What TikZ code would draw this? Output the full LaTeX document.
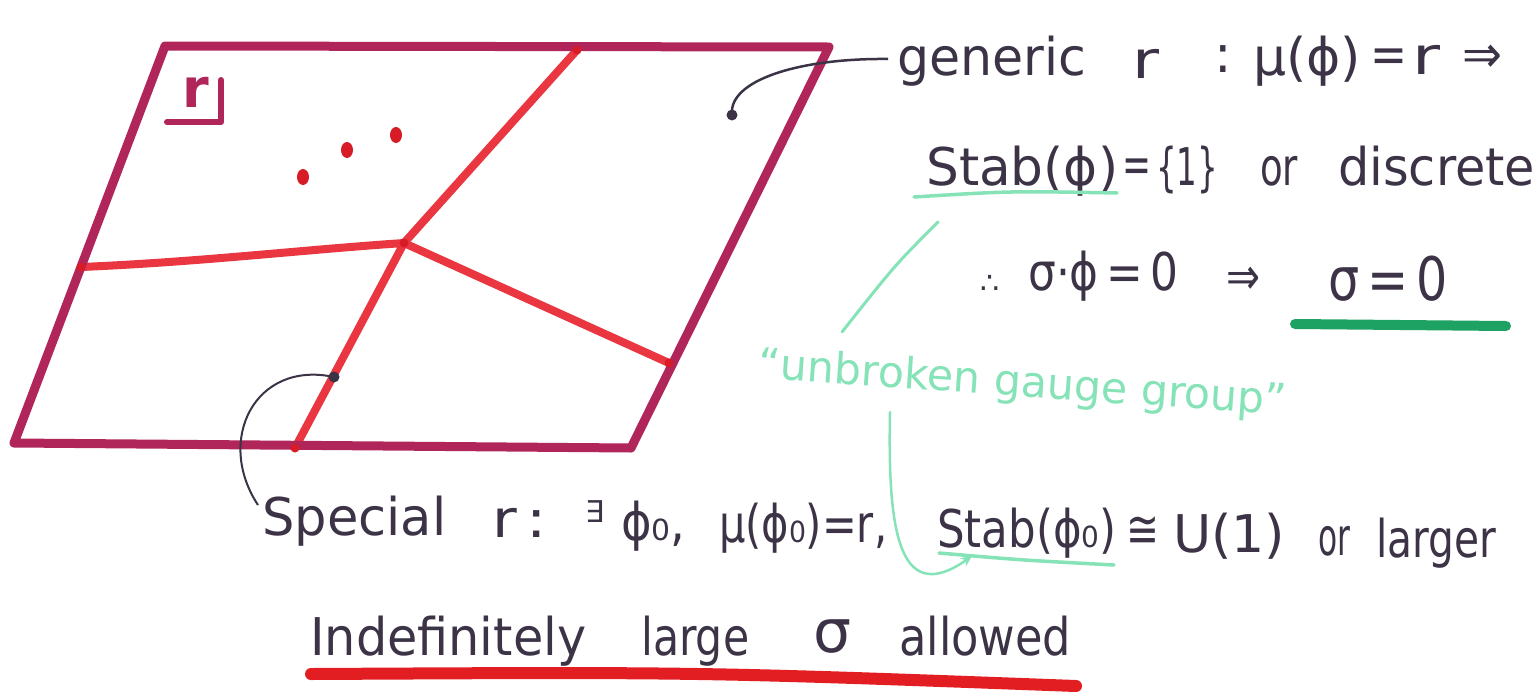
\documentclass[tikz,border=0pt]{standalone}
\usepackage{graphicx}
\usepackage{fontspec}
\setmainfont{DejaVu Sans}
\usetikzlibrary{arrows.meta}
\definecolor{frame}{RGB}{176,38,90}
\definecolor{redline}{RGB}{234,54,64}
\definecolor{reddot}{RGB}{215,28,40}
\definecolor{ink}{RGB}{60,52,70}
\definecolor{mint}{RGB}{134,227,184}
\definecolor{dgreen}{RGB}{30,162,99}
\definecolor{ured}{RGB}{227,30,34}
\newcommand\fw[2]{\resizebox{#1pt}{\height}{#2}}
\begin{document}
\begin{tikzpicture}[x=1pt,y=-1pt,
  txt/.style={anchor=base west, inner sep=0pt, text=ink, font=\fontsize{52}{56}\selectfont},
  big/.style={font=\fontsize{60}{64}\selectfont},
  small/.style={font=\fontsize{30}{32}\selectfont},
  gtxt/.style={anchor=base west, inner sep=0pt, text=mint, font=\fontsize{43}{46}\selectfont},
  framestroke/.style={draw=frame, line width=9, line join=round, line cap=round},
  redstroke/.style={draw=redline, line width=8, line cap=round},
  inkline/.style={draw=ink, line width=2.5},
  mintline/.style={draw=mint, line width=3.5, line cap=round}]
\useasboundingbox (0,0) rectangle (1539,691);
\fill[white] (0,0) rectangle (1539,691);
% parallelogram
\coordinate (tl) at (165,46);
\coordinate (tr) at (829,47);
\coordinate (br) at (631,448);
\coordinate (bl) at (14,443);
\coordinate (c) at (404,243);
\coordinate (etop) at (577,50);
\coordinate (eleft) at (81,267);
\coordinate (eright) at (669,363);
\coordinate (ebot) at (295,448);
\draw[redstroke] (etop) -- (c);
\draw[redstroke] (eleft) .. controls (200,262) and (300,250) .. (c);
\draw[redstroke] (c) -- (eright);
\draw[redstroke] (c) -- (ebot);
\draw[framestroke] (tl) -- (tr) -- (br) -- (bl) -- cycle;
\foreach \p in {c,etop,eleft,eright,ebot} \fill[reddot] (\p) circle (4.5);
% dots
\fill[reddot] (303,177) ellipse (6 and 8);
\fill[reddot] (347,150) ellipse (6 and 8);
\fill[reddot] (396,135) ellipse (6 and 8);
% r label
\node[anchor=base, inner sep=0pt, text=frame, font=\fontsize{54}{54}\selectfont\bfseries] (rlab) at (196,107) {r};
\draw[frame, line width=6, line cap=round, line join=round] (167,122) -- (221,122) -- (221,80);
% line 1
\node[txt] (gen) at (897,75) {\fw{189}{generic}};
\node[txt] (l1r) at (1132,78) {\fw{27}{r}};
\node[txt] (l1c) at (1214,72) {:};
\node[txt] (l1mu) at (1253,75) {\fw{108}{μ(ϕ)}};
\node[txt] (l1eq) at (1370,72) {\fw{37}{=}};
\node[txt] (l1r2) at (1412,74) {\fw{28}{r}};
\node[txt] (l1imp) at (1462,72) {\fw{40}{⇒}};
% line 2
\node[txt] (stab) at (926,185) {\fw{192}{Stab(ϕ)}};
\node[txt] (l2eq) at (1122,182) {\fw{29}{=}};
\node[txt] (l2set) at (1156,185) {\fw{62}{\{1\}}};
\node[txt] (l2or) at (1260,185) {\fw{38}{or}};
\node[txt] (l2disc) at (1338,185) {\fw{197}{discrete}};
% line 3
\node[txt, small] (there) at (980,293) {∴};
\node[txt] (l3a) at (1028,290) {\fw{150}{σ·ϕ\,=\,0}};
\node[txt] (l3imp) at (1226,294) {\fw{34}{⇒}};
\node[txt, big] (l3b) at (1328,300) {\fw{120}{σ\,=\,0}};
% green text
\node[gtxt, rotate=-4] (unb) at (757,378) {\fw{530}{“unbroken gauge group”}};
% line 4
\node[txt] (spec) at (262,535) {\fw{184}{Special}};
\node[txt] (l4r) at (492,537) {\fw{55}{r\,:}};
\node[txt, small] (l4ex) at (585,522) {∃};
\node[txt] (l4phi) at (621,540) {\fw{64}{ϕ₀,}};
\node[txt] (l4mu) at (719,542) {\fw{168}{μ(ϕ₀)=r,}};
\node[txt] (stab0) at (937,547) {\fw{179}{Stab(ϕ₀)}};
\node[txt] (l4cong) at (1126,547) {\fw{33}{≅}};
\node[txt] (l4u) at (1173,552) {\fw{112}{U(1)}};
\node[txt] (l4or) at (1318,555) {\fw{32}{or}};
\node[txt] (l4lg) at (1376,557) {\fw{120}{larger}};
% line 5
\node[txt] (indef) at (310,655) {\fw{276}{Indefinitely}};
\node[txt] (large) at (641,655) {\fw{108}{large}};
\node[txt, big] (sig) at (813,652) {\fw{38}{σ}};
\node[txt] (allow) at (899,655) {\fw{172}{allowed}};
% underlines
\draw[mintline] (914,197) .. controls (1010,191) .. (1117,193);
\draw[dgreen, line width=10, line cap=round] (1295,324) -- (1506,326);
\draw[mintline] (939,553) .. controls (1020,560) .. (1114,565);
\draw[ured, line width=12, line cap=round] (311,674) .. controls (700,672) .. (1076,686);
% connectors
\coordinate (gdot) at (732,115);
\coordinate (gend) at (888,59);
\fill[ink] (gdot) circle (5.5);
\draw[inkline] (gdot) .. controls (728,80) and (800,58) .. (gend);
\coordinate (sdot) at (334,377);
\coordinate (send) at (258,505);
\fill[ink] (sdot) circle (5.5);
\draw[inkline, line width=2] (sdot) .. controls (255,360) and (215,440) .. (send);
% green connectors
\coordinate (ga) at (938,222);
\coordinate (gb) at (842,332);
\draw[mintline, line width=3] (ga) .. controls (895,265) .. (gb);
\coordinate (gc) at (890,412);
\coordinate (gd) at (972,556);
\draw[mintline, line width=2.5, -{Stealth[length=11pt,width=10pt]}] (gc) .. controls (888,520) and (895,610) .. (gd);
\end{tikzpicture}
\end{document}
